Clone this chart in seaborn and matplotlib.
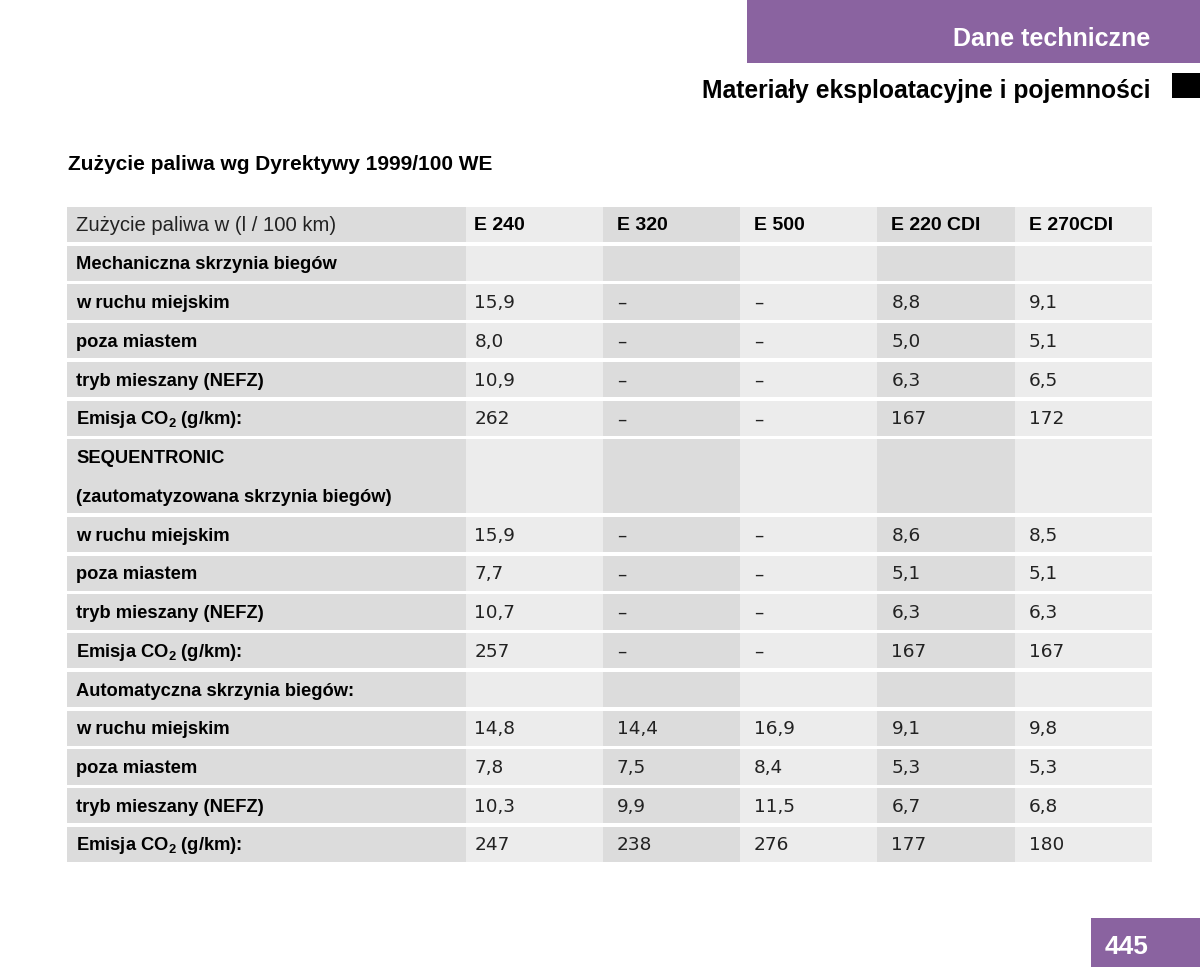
import matplotlib.pyplot as plt
import seaborn as sns
from matplotlib.patches import Rectangle

sns.set_style("white")
plt.rcParams["font.family"] = ["Liberation Sans", "DejaVu Sans"]
plt.rcParams["text.color"] = "black"
plt.rcParams["mathtext.fontset"] = "custom"
plt.rcParams["mathtext.rm"] = "Liberation Sans:bold"
plt.rcParams["mathtext.bf"] = "Liberation Sans:bold"

PURPLE = "#8a63a0"
DARK = "#dcdcdc"
LIGHT = "#ececec"

HEADER_LABEL = "Zużycie paliwa w (l / 100 km)"
MODELS = ["E 240", "E 320", "E 500", "E 220 CDI", "E 270CDI"]

CO2 = r"Emisja CO$_{\mathbf{2}}$ (g/km):"
ROW_LABELS = [
    "Mechaniczna skrzynia biegów",
    "w ruchu miejskim", "poza miastem", "tryb mieszany (NEFZ)", CO2,
    "SEQUENTRONIC\n(zautomatyzowana skrzynia biegów)",
    "w ruchu miejskim", "poza miastem", "tryb mieszany (NEFZ)", CO2,
    "Automatyczna skrzynia biegów:",
    "w ruchu miejskim", "poza miastem", "tryb mieszany (NEFZ)", CO2,
]
ROW_UNITS = [1, 1, 1, 1, 1, 2, 1, 1, 1, 1, 1, 1, 1, 1, 1]

E240 = ["", "15,9", "8,0", "10,9", "262", "", "15,9", "7,7", "10,7", "257", "", "14,8", "7,8", "10,3", "247"]
E320 = ["", "–", "–", "–", "–", "", "–", "–", "–", "–", "", "14,4", "7,5", "9,9", "238"]
E500 = ["", "–", "–", "–", "–", "", "–", "–", "–", "–", "", "16,9", "8,4", "11,5", "276"]
E220CDI = ["", "8,8", "5,0", "6,3", "167", "", "8,6", "5,1", "6,3", "167", "", "9,1", "5,3", "6,7", "177"]
E270CDI = ["", "9,1", "5,1", "6,5", "172", "", "8,5", "5,1", "6,3", "167", "", "9,8", "5,3", "6,8", "180"]
VALUES = [E240, E320, E500, E220CDI, E270CDI]

# layout in pixels
W, H = 1200, 967
TABLE_LEFT, TABLE_TOP = 67, 207
LABEL_W, COL_W = 398.5, 137.3
UNIT, GAP = 38.74, 3.5
TEXT_PAD = [9, 9, 14, 14, 14, 14]

fig = plt.figure(figsize=(W / 100, H / 100), dpi=100)
ax = fig.add_axes([0, 0, 1, 1])
ax.set_xlim(0, W)
ax.set_ylim(H, 0)
ax.axis("off")

# page header
ax.add_patch(Rectangle((747, 0), W - 747, 63, color=PURPLE, lw=0))
ax.text(1150, 39, "Dane techniczne", color="white", fontsize=18, fontweight="bold",
        ha="right", va="center")
ax.text(1150, 91, "Materiały eksploatacyjne i pojemności", fontsize=17.7, fontweight="bold",
        ha="right", va="center")
ax.add_patch(Rectangle((1172, 73), W - 1172, 25, color="black", lw=0))
ax.text(TABLE_LEFT + 1, 164, "Zużycie paliwa wg Dyrektywy 1999/100 WE", fontsize=15, fontweight="bold",
        ha="left", va="center")

col_x = [TABLE_LEFT] + [TABLE_LEFT + LABEL_W + i * COL_W for i in range(len(MODELS))]
col_w = [LABEL_W] + [COL_W] * len(MODELS)
col_c = [DARK if i % 2 == 0 else LIGHT for i in range(len(col_x))]


def draw_row(top, units, cells, header=False):
    h = units * UNIT - GAP
    for j, (x, w, c) in enumerate(zip(col_x, col_w, col_c)):
        ax.add_patch(Rectangle((x, top), w, h, color=c, lw=0))
        txt = cells[j]
        if not txt:
            continue
        for k, line in enumerate(txt.split("\n")):
            yc = top + (k + 0.5) * UNIT - GAP / 2
            if j == 0 and header:
                ax.text(x + TEXT_PAD[j], yc + 1, line, fontsize=14.6, color="#222222",
                        ha="left", va="center")
            elif j == 0:
                ax.text(x + TEXT_PAD[j], yc + 1.5, line, fontsize=13.2, fontweight="bold",
                        ha="left", va="center")
            elif header:
                ax.text(x + TEXT_PAD[j], yc + 1, line, fontsize=14, fontweight="bold",
                        ha="left", va="center")
            else:
                ax.text(x + TEXT_PAD[j], yc + 1, line, fontsize=13.3, color="#222222",
                        ha="left", va="center", family=["DejaVu Sans"])


draw_row(TABLE_TOP, 1, [HEADER_LABEL] + MODELS, header=True)
top = TABLE_TOP + UNIT
for i, label in enumerate(ROW_LABELS):
    draw_row(top, ROW_UNITS[i], [label] + [v[i] for v in VALUES])
    top += ROW_UNITS[i] * UNIT

# page number
ax.add_patch(Rectangle((1091, 918), W - 1091, H - 918, color=PURPLE, lw=0))
ax.text(1127, 947, "445", color="white", fontsize=19, fontweight="bold", ha="center", va="center")

fig.savefig("out.png", dpi=100)
